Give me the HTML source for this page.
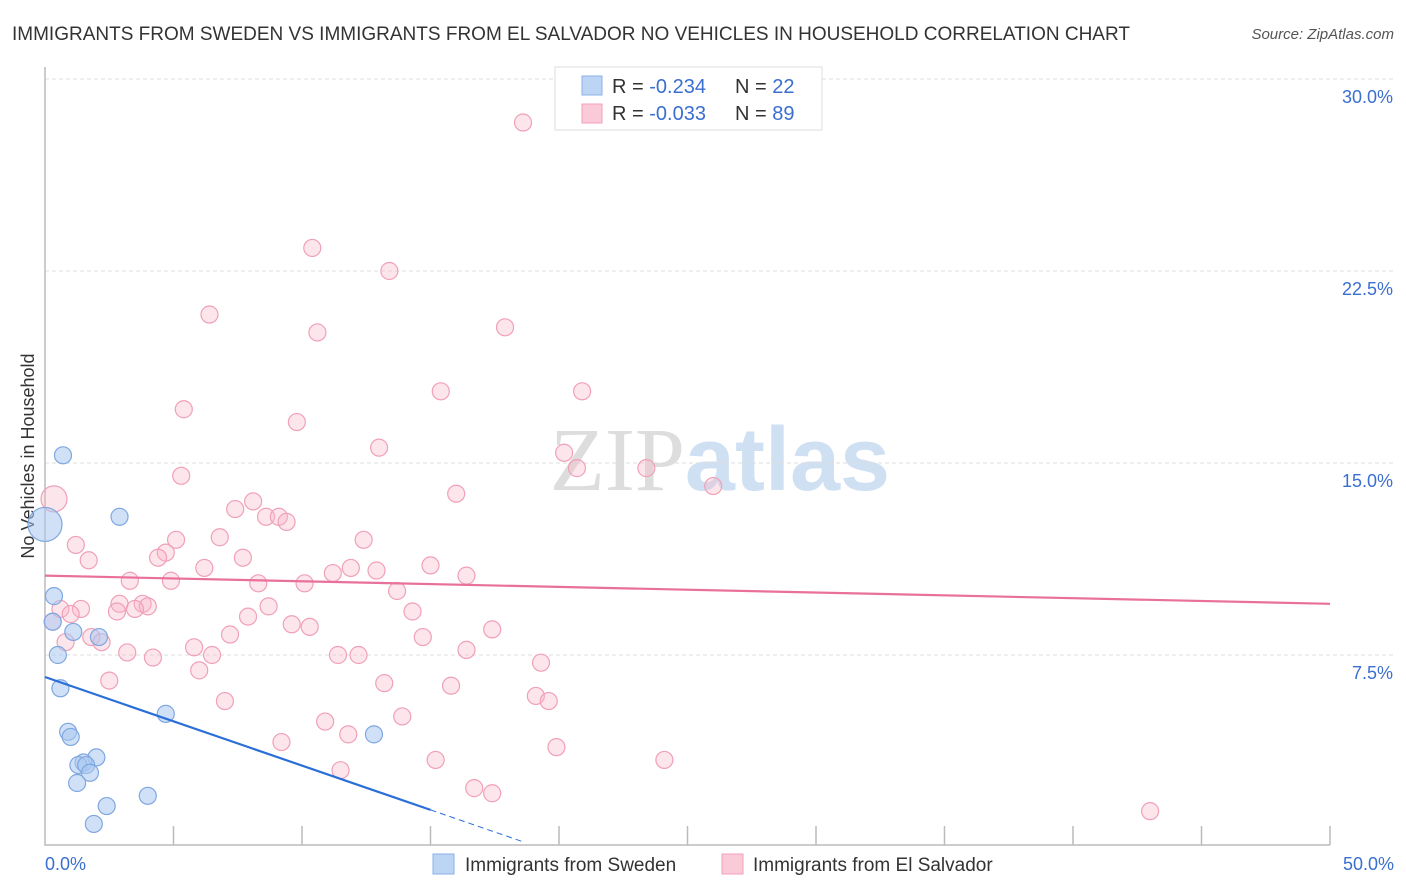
<!DOCTYPE html>
<html><head><meta charset="utf-8"><style>
body{margin:0;background:#fff;font-family:"Liberation Sans",sans-serif;}
svg{display:block}
</style></head><body>
<svg id="chart" width="1406" height="892">
<text x="12" y="40" font-size="19" fill="#333">IMMIGRANTS FROM SWEDEN VS IMMIGRANTS FROM EL SALVADOR NO VEHICLES IN HOUSEHOLD CORRELATION CHART</text>
<text x="1394" y="39" font-size="15" fill="#555" font-style="italic" text-anchor="end">Source: ZipAtlas.com</text>
<text x="720" y="490" font-size="90" text-anchor="middle"><tspan fill="#ddd" font-family="Liberation Serif">ZIP</tspan><tspan fill="#cfe0f3" font-weight="bold">atlas</tspan></text>
<text transform="translate(34,456) rotate(-90)" font-size="18" fill="#333" text-anchor="middle">No Vehicles in Household</text>
<g id="grid"></g><g id="axes"></g><g id="pts"></g><g id="lines"></g>
<g>
<rect x="555" y="67" width="267" height="63" fill="#fff" stroke="#ddd"/>
<rect x="582" y="76" width="20" height="19" fill="#bcd5f5" stroke="#8ab0e8"/>
<rect x="582" y="104" width="20" height="19" fill="#fbcad8" stroke="#f0a0b8"/>
<text x="612" y="93" font-size="20" fill="#333">R = <tspan fill="#3a6fd0">-0.234</tspan><tspan x="735">N = </tspan><tspan fill="#3a6fd0">22</tspan></text>
<text x="612" y="120" font-size="20" fill="#333">R = <tspan fill="#3a6fd0">-0.033</tspan><tspan x="735">N = </tspan><tspan fill="#3a6fd0">89</tspan></text>
</g>
<g>
<rect x="433" y="854" width="21" height="20" fill="#bcd5f5" stroke="#8ab0e8"/>
<text x="465" y="871" font-size="19" fill="#333">Immigrants from Sweden</text>
<rect x="722" y="854" width="21" height="20" fill="#fbcad8" stroke="#f0a0b8"/>
<text x="753" y="871" font-size="19" fill="#333">Immigrants from El Salvador</text>
</g>
</svg>
<script>
const yTicks=[7.5,15,22.5,30];
const yTickLabels=["7.5%","15.0%","22.5%","30.0%"];
const xTickLabels=["0.0%","50.0%"];
const swedenX=[0,0.7,2.9,0.35,0.3,1.1,2.1,0.5,0.6,4.7,0.9,1.0,12.8,2.0,1.5,1.3,1.6,1.75,1.25,2.4,4.0,1.9];
const swedenY=[12.6,15.3,12.9,9.8,8.8,8.4,8.2,7.5,6.2,5.2,4.5,4.3,4.4,3.5,3.3,3.2,3.2,2.9,2.5,1.6,2.0,0.9];
const salvX=[18.6,10.4,13.4,6.4,10.6,17.9,15.4,20.9,5.4,9.8,13.0,20.2,20.7,23.4,5.3,26.0,16.0,0.35,8.1,7.4,8.6,9.1,9.4,6.8,5.1,1.2,12.4,4.7,4.4,7.7,1.7,15.0,11.9,6.2,12.9,11.2,16.4,3.3,4.9,8.3,10.1,13.7,2.9,3.8,4.0,3.5,8.7,1.4,0.6,2.8,14.3,1.0,7.9,0.3,9.6,10.3,17.4,7.2,14.7,1.8,2.2,0.8,5.8,3.2,6.5,11.4,12.2,4.2,16.4,19.3,6.0,2.5,13.2,15.8,19.1,19.6,7.0,13.9,10.9,11.8,9.2,19.9,15.2,24.1,11.5,16.7,17.4,43.0];
const salvY=[28.3,23.4,22.5,20.8,20.1,20.3,17.8,17.8,17.1,16.6,15.6,15.4,14.8,14.8,14.5,14.1,13.8,13.6,13.5,13.2,12.9,12.9,12.7,12.1,12.0,11.8,12.0,11.5,11.3,11.3,11.2,11.0,10.9,10.9,10.8,10.7,10.6,10.4,10.4,10.3,10.3,10.0,9.5,9.5,9.4,9.3,9.4,9.3,9.3,9.2,9.2,9.1,9.0,8.8,8.7,8.6,8.5,8.3,8.2,8.2,8.0,8.0,7.8,7.6,7.5,7.5,7.5,7.4,7.7,7.2,6.9,6.5,6.4,6.3,5.9,5.7,5.7,5.1,4.9,4.4,4.1,3.9,3.4,3.4,3.0,2.3,2.1,1.4];
const swedenTrend=[6.64,-0.346];
const salvTrend=[10.6,-0.022];
const X=v=>45+v*25.7, Y=v=>847-v*25.6;
const NS="http://www.w3.org/2000/svg";
function mk(t,a,p){const e=document.createElementNS(NS,t);for(const k in a)e.setAttribute(k,a[k]);p.appendChild(e);return e;}
const grid=document.getElementById('grid'),axes=document.getElementById('axes'),pts=document.getElementById('pts'),lines=document.getElementById('lines');
yTicks.forEach((t,i)=>{
 const l=mk('line',{x1:45,x2:1394,y1:Y(t),y2:Y(t),stroke:'#ddd','stroke-dasharray':'4,3'},grid);
 
 
 const tx=mk('text',{x:1393,y:Y(t)+24,'font-size':18,fill:'#3a6fd0','text-anchor':'end'},axes);
 tx.textContent=yTickLabels[i];
 
 
});
const ax=mk('path',{d:'M45,67 V845 H1330',fill:'none',stroke:'#bbb','stroke-width':1.5},axes);


for(let i=1;i<=10;i++){const tk=mk('line',{x1:X(i*5),x2:X(i*5),y1:826,y2:845,stroke:'#bbb','stroke-width':1.5},axes);
 
 }
[[0,'start',45],[50,'end',1394]].forEach((d,i)=>{const tx=mk('text',{x:d[2],y:870,'font-size':18,fill:'#3a6fd0','text-anchor':d[1]},axes);tx.textContent=xTickLabels[i];
 
 });
salvX.forEach((x,i)=>{const c=mk('circle',{cx:X(x),cy:Y(salvY[i]),r:i==17?13:8.5,fill:'rgba(248,180,200,0.35)',stroke:'#f0a0b8','stroke-width':1.2},pts);
 
 });
swedenX.forEach((x,i)=>{const c=mk('circle',{cx:X(x),cy:Y(swedenY[i]),r:i==0?17:8.5,fill:'rgba(170,200,240,0.55)',stroke:'#7fa7e0','stroke-width':1.2},pts);
 
 });
let l1=mk('line',{x1:X(0),y1:Y(swedenTrend[0]),x2:X(15),y2:Y(swedenTrend[0]+15*swedenTrend[1]),stroke:'#2a6fd8','stroke-width':2.2},lines);


let l1d=mk('line',{x1:X(15),y1:Y(swedenTrend[0]+15*swedenTrend[1]),x2:X(18.6),y2:Y(swedenTrend[0]+18.6*swedenTrend[1]),stroke:'#2a6fd8','stroke-width':1,'stroke-dasharray':'6,4'},lines);


let l2=mk('line',{x1:X(0),y1:Y(salvTrend[0]),x2:X(50),y2:Y(salvTrend[0]+50*salvTrend[1]),stroke:'#e8709a','stroke-width':2.2},lines);


</script>
</body></html>
